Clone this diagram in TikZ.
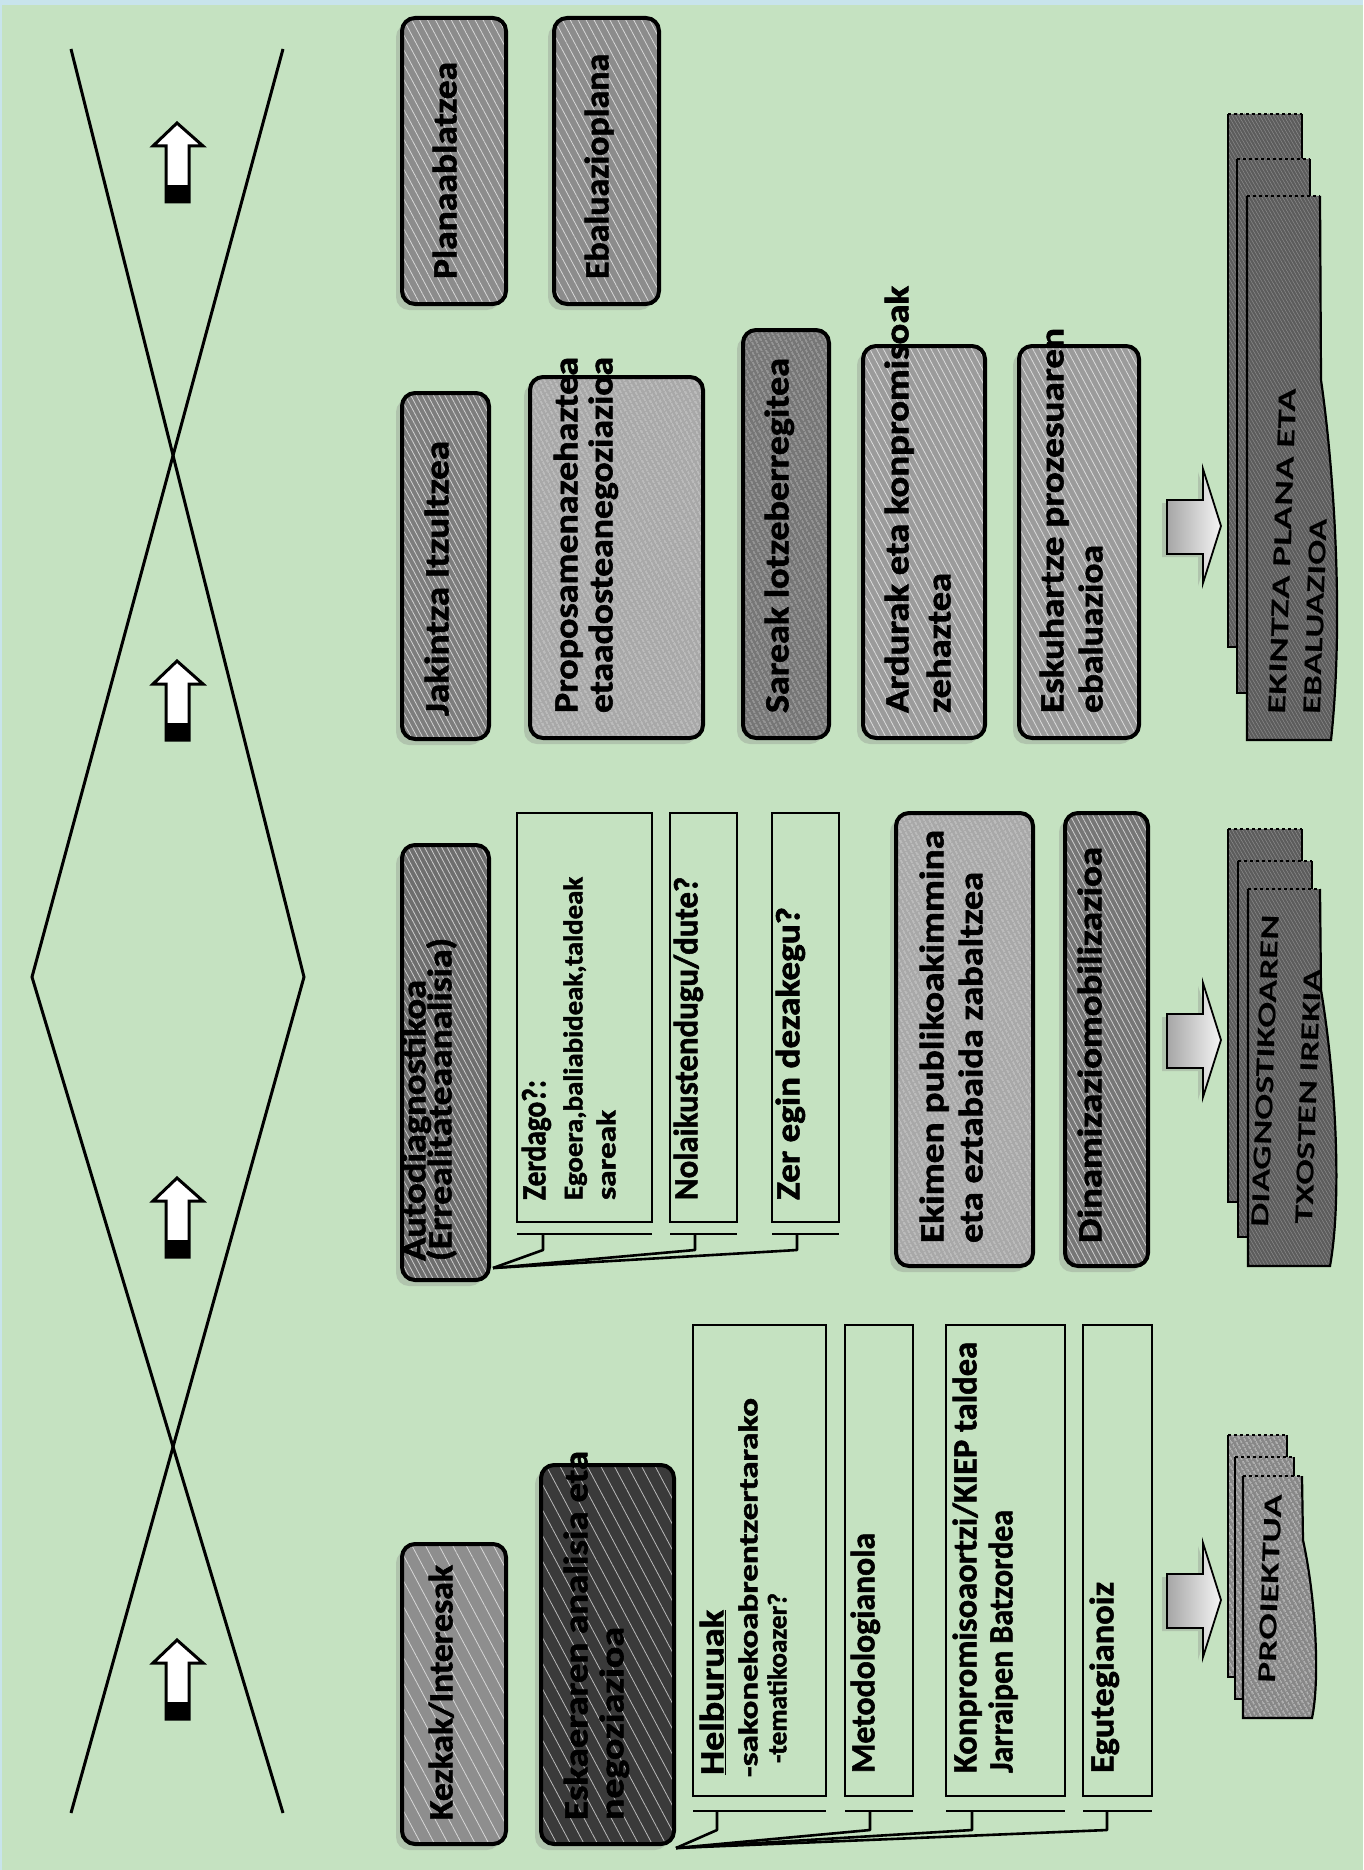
\documentclass[tikz,border=0pt]{standalone}
\usepackage{fontspec}
\setmainfont{Carlito}[BoldFont=Carlito Bold, BoldFeatures={FakeBold=1.6}]
\newfontfamily\sheetfont{Carlito Bold}
\usepackage{graphicx}
\usetikzlibrary{patterns.meta,shadows}
\definecolor{bg}{RGB}{197,226,193}
\definecolor{edgeblue}{RGB}{200,228,236}
\definecolor{gA}{RGB}{140,140,140}
\definecolor{gB}{RGB}{125,125,125}
\definecolor{gC}{RGB}{168,168,168}
\definecolor{gD}{RGB}{118,118,118}
\definecolor{gE}{RGB}{155,155,155}
\definecolor{gF}{RGB}{110,110,110}
\definecolor{gG}{RGB}{142,142,142}
\definecolor{gH}{RGB}{58,58,58}
\definecolor{shD}{RGB}{92,92,92}
\definecolor{shL}{RGB}{135,135,135}
\newcommand\mkbox[6]{%
  \pgfmathsetmacro\mybw{#4-#2}\pgfmathsetmacro\mybh{#5-#3}%
  \node[#6, minimum width=\mybw pt, minimum height=\mybh pt] (#1) at ({(#2+#4)/2},{(#3+#5)/2}) {};}
\newcommand\vl[6][]{\node[vt,#1] (#2) at (#3,#4) {\resizebox{#5pt}{\height}{#6}};}
\tikzset{
  gbox/.style 2 args={draw=black, line width=4pt, rounded corners=13pt, inner sep=0pt, outer sep=0pt,
     drop shadow={shadow xshift=-6pt, shadow yshift=-6pt, opacity=0.3},
     preaction={fill=#1},
     pattern={Lines[angle=-62,distance=#2,line width=0.8pt]}, pattern color=white!65!#1},
  tbox/.style={draw=black, line width=2.2pt, inner sep=0pt, outer sep=0pt},
  vt/.style={rotate=90, anchor=mid west, inner sep=0pt, outer sep=0pt, text=black, font=\bfseries\fontsize{34}{40}\selectfont},
  smallt/.style={font=\bfseries\fontsize{27}{32}\selectfont},
  sheett/.style={rotate=-2, text=black, font=\sheetfont\fontsize{26}{30}\selectfont},
  xline/.style={line width=3pt, line join=miter},
  brk/.style={line width=2.6pt},
  conn/.style={line width=2.6pt, line join=round},
  sheetD/.style={fill=shD, postaction={pattern={Lines[angle=-60,distance=3pt,line width=0.5pt]}, pattern color=black!45}},
  sheetL/.style={fill=shL, postaction={pattern={Lines[angle=-60,distance=4pt,line width=1pt]}, pattern color=white!60!shL}},
  sedge/.style={draw=black, line width=2.2pt},
  bigarrow/.style={draw=black, line width=1.8pt, left color=gray!70, right color=gray!8,
     drop shadow={shadow xshift=-5pt, shadow yshift=-3pt, opacity=0.3}},
}
\begin{document}
\begin{tikzpicture}[x=1pt,y=-1pt]
\useasboundingbox (0,0) rectangle (1363,1870);
\fill[bg] (0,0) rectangle (1363,1870);
\fill[edgeblue] (0,0) rectangle (1363,5);
\fill[edgeblue] (0,0) rectangle (2,1870);

% crossing lines
\draw[xline] (71,49) -- (304,977) -- (71,1813);
\draw[xline] (283,49) -- (32,977) -- (283,1813);

% small up arrows
\foreach \t in {123,661,1178,1640} {
  \begin{scope}[shift={(0,\t-123)}]
    \fill[white] (166,202) -- (166,146) -- (153,146) -- (177,123) -- (203,146) -- (189,146) -- (189,202) -- cycle;
    \fill[black] (166,185) rectangle (189,202);
    \draw[line width=3pt] (166,202) -- (166,146) -- (153,146) -- (177,123) -- (203,146) -- (189,146) -- (189,202) -- cycle;
  \end{scope}
}

% grey boxes
\mkbox{plana}{402}{18}{506}{304}{gbox={gA}{7pt}}
\mkbox{ebal}{554}{18}{659}{304}{gbox={gA}{7pt}}
\mkbox{jak}{402}{393}{489}{739}{gbox={gB}{5pt}}
\mkbox{prop}{530}{377}{703}{738}{gbox={gC}{4pt}}
\mkbox{sare}{743}{330}{829}{738}{gbox={gD}{4pt}}
\mkbox{ardu}{863}{346}{985}{738}{gbox={gE}{6pt}}
\mkbox{esku}{1019}{346}{1139}{738}{gbox={gE}{6pt}}
\mkbox{auto}{402}{845}{489}{1280}{gbox={gF}{5pt}}
\mkbox{ekim}{896}{813}{1033}{1266}{gbox={gC}{4pt}}
\mkbox{dina}{1065}{813}{1148}{1266}{gbox={gD}{5pt}}
\mkbox{kezk}{402}{1544}{506}{1844}{gbox={gG}{12pt}}
\mkbox{eska}{541}{1465}{674}{1844}{gbox={gH}{12pt}}

% outline boxes
\mkbox{zer}{517}{813}{652}{1222}{tbox}
\mkbox{nola}{670}{813}{737}{1222}{tbox}
\mkbox{zeregin}{772}{813}{839}{1222}{tbox}
\mkbox{helb}{693}{1325}{826}{1796}{tbox}
\mkbox{meto}{845}{1325}{913}{1796}{tbox}
\mkbox{konp}{946}{1325}{1065}{1796}{tbox}
\mkbox{egut}{1083}{1325}{1152}{1796}{tbox}

% brackets group 1
\coordinate (ca) at ([xshift=4pt,yshift=12pt]auto.south east);
\foreach \n/\d in {zer/26,nola/25,zeregin/25} {
  \draw[brk] ([yshift=-12pt]\n.south west) -- ([yshift=-12pt]\n.south east);
  \draw[conn] ([xshift=\d pt,yshift=-12pt]\n.south west) -- ++(0,16) -- (ca);
}
% brackets group 2
\coordinate (cb) at ([xshift=2pt,yshift=-4pt]eska.south east);
\foreach \n/\d in {helb/24,meto/25,konp/26,egut/24} {
  \draw[brk] ([yshift=-15pt]\n.south west) -- ([yshift=-15pt]\n.south east);
  \draw[conn] ([xshift=\d pt,yshift=-15pt]\n.south west) -- ++(0,19) -- (cb);
}

% big arrows
\foreach \s in {0,514,1074} {
  \begin{scope}[shift={(0,\s)}]
    \path[bigarrow] (1167,500) -- (1203,500) -- (1203,469) -- (1221,526) -- (1203,583) -- (1203,554) -- (1167,554) -- cycle;
  \end{scope}
}

% stacked documents: EKINTZA
\path[sheetD] (1228,114) rectangle (1302,647);
\draw[sedge] (1302,114) -- (1302,647) -- (1228,647) -- (1228,114);
\draw[sedge,dashed] (1228,114) -- (1302,114);
\path[sheetD] (1237,159) rectangle (1310,693);
\draw[sedge] (1310,159) -- (1310,693) -- (1237,693) -- (1237,159);
\draw[sedge,dashed] (1237,159) -- (1310,159);
\path[sheetD] (1247,196) -- (1320,196) -- (1321,380) .. controls (1334,470) and (1344,620) .. (1331,740) -- (1247,740) -- cycle;
\draw[sedge] (1320,196) -- (1321,380) .. controls (1334,470) and (1344,620) .. (1331,740) -- (1247,740) -- (1247,196);
\draw[sedge,dashed] (1247,196) -- (1320,196);
% DIAG
\path[sheetD] (1228,829) rectangle (1302,1202);
\draw[sedge] (1302,829) -- (1302,1202) -- (1228,1202) -- (1228,829);
\draw[sedge,dashed] (1228,829) -- (1302,829);
\path[sheetD] (1238,861) rectangle (1312,1237);
\draw[sedge] (1312,861) -- (1312,1237) -- (1238,1237) -- (1238,861);
\draw[sedge,dashed] (1238,861) -- (1312,861);
\path[sheetD] (1248,889) -- (1320,889) -- (1321,990) .. controls (1336,1080) and (1342,1200) .. (1330,1266) -- (1248,1266) -- cycle;
\draw[sedge] (1320,889) -- (1321,990) .. controls (1336,1080) and (1342,1200) .. (1330,1266) -- (1248,1266) -- (1248,889);
\draw[sedge,dashed] (1248,889) -- (1320,889);
% PROIEKTUA
\path[sheetL] (1228,1435) rectangle (1287,1677);
\draw[sedge] (1287,1435) -- (1287,1677) -- (1228,1677) -- (1228,1435);
\draw[sedge,dashed] (1228,1435) -- (1287,1435);
\path[sheetL] (1235,1457) rectangle (1294,1699);
\draw[sedge] (1294,1457) -- (1294,1699) -- (1235,1699) -- (1235,1457);
\draw[sedge,dashed] (1235,1457) -- (1294,1457);
\path[sheetL] (1243,1476) -- (1302,1476) -- (1303,1540) .. controls (1316,1600) and (1320,1680) .. (1312,1718) -- (1243,1718) -- cycle;
\draw[sedge] (1302,1476) -- (1303,1540) .. controls (1316,1600) and (1320,1680) .. (1312,1718) -- (1243,1718) -- (1243,1476);
\draw[sedge,dashed] (1243,1476) -- (1302,1476);

% texts
\vl{tplana}{454}{279}{217}{Planaablatzea}
\vl{tebal}{606}{279}{225}{Ebaluazioplana}
\vl{tjak}{446}{716}{275}{Jakintza Itzultzea}
\vl{tprop1}{575}{713}{356}{Proposamenazehaztea}
\vl{tprop2}{610}{713}{356}{etaadosteanegoziazioa}
\vl{tsare}{786}{713}{355}{Sareak lotzeberregitea}
\vl{tardu1}{906}{713}{427}{Ardurak eta konpromisoak}
\vl{tardu2}{948}{713}{140}{zehaztea}
\vl{tesku1}{1061}{713}{385}{Eskuhartze prozesuaren}
\vl{tesku2}{1100}{713}{168}{ebaluazioa}
\vl[sheett]{tekin1}{1283}{714}{325}{EKINTZA PLANA ETA}
\vl[sheett]{tekin2}{1318}{714}{195}{EBALUAZIOA}
\vl{tauto1}{423}{1261}{281}{Autodiagnostikoa}
\vl{tauto2}{449}{1261}{323}{(Errealitateaanalisia)}
\vl{tzer1}{543}{1200}{120}{Zerdago?:}
\vl[smallt]{tzer2}{580}{1200}{323}{Egoera,baliabideak,taldeak}
\vl[smallt]{tzer3}{613}{1200}{90}{sareak}
\vl{tnola}{695}{1200}{323}{Nolaikustendugu/dute?}
\vl{tzeregin}{797}{1200}{293}{Zer egin dezakegu?}
\vl{tekim1}{941}{1243}{413}{Ekimen publikoakimmina}
\vl{tekim2}{980}{1243}{371}{eta eztabaida zabaltzea}
\vl{tdina}{1099}{1243}{396}{Dinamizaziomobilizazioa}
\vl[sheett]{tdiag1}{1266}{1227}{312}{DIAGNOSTIKOAREN}
\vl[sheett]{tdiag2}{1310}{1224}{255}{TXOSTEN IREKIA}
\vl{tkezk}{450}{1820}{255}{Kezkak/Interesak}
\vl{teska1}{585}{1820}{369}{Eskaeraren analisia eta}
\vl{teska2}{621}{1820}{193}{negoziazioa}
\vl{thelb1}{721}{1775}{165}{\underline{Helburuak}}
\vl[smallt]{thelb2}{755}{1777}{379}{-sakonekoabrentzertarako}
\vl[smallt]{thelb3}{784}{1763}{170}{-tematikoazer?}
\vl{tmeto}{872}{1773}{240}{Metodologianola}
\vl{tkonp1}{974}{1773}{431}{Konpromisoaortzi/KIEP taldea}
\vl{tkonp2}{1010}{1773}{263}{Jarraipen Batzordea}
\vl{tegut}{1111}{1773}{191}{Egutegianoiz}
\vl[sheett]{tproi}{1273}{1683}{188}{PROIEKTUA}
\end{tikzpicture}
\end{document}
